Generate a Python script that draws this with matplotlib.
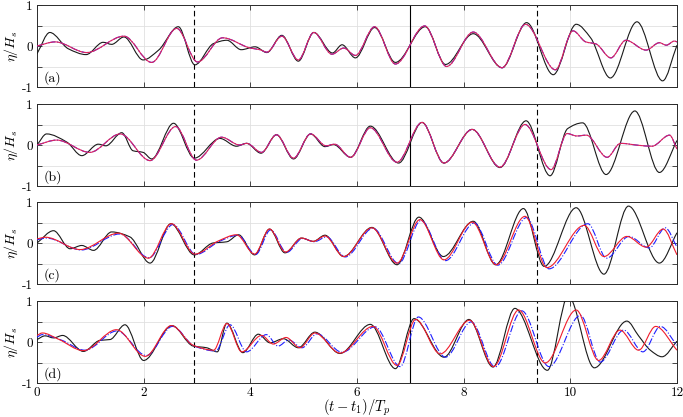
import numpy as np
import matplotlib
matplotlib.use('Agg')
import matplotlib.pyplot as plt
from matplotlib.path import Path
from matplotlib.patches import PathPatch

plt.rcParams['mathtext.fontset'] = 'cm'
plt.rcParams['font.family'] = ['cmr10', 'DejaVu Serif']
plt.rcParams['axes.unicode_minus'] = False

# ---------------- data ----------------
# panel (a)
a_black_t = [0, 0.24, 0.59, 0.92, 1.24, 1.40, 1.63, 1.99, 2.28, 2.65, 2.96, 3.31, 3.56, 3.83, 4.09, 4.31,
             4.59, 4.90, 5.19, 5.54, 5.72, 5.97, 6.33, 6.72, 7.28, 7.66, 8.18, 8.72, 9.18, 9.68, 10.11,
             10.38, 10.75, 11.25, 11.73, 12.0]
a_black_y = [-0.19, 0.33, -0.07, -0.21, 0.09, 0.04, 0.22, -0.34, -0.10, 0.47, -0.46, 0.06, 0.14, -0.09,
             -0.02, -0.16, 0.26, -0.37, 0.33, -0.17, 0.03, -0.29, 0.45, -0.40, 0.47, -0.45, 0.30, -0.53,
             0.57, -0.70, 0.53, 0.20, -0.78, 0.59, -0.85, 0.02]
a_red_t = [0, 0.34, 0.93, 1.63, 2.15, 2.62, 3.01, 3.48, 4.0, 4.18, 4.31, 4.59, 4.90, 5.19, 5.53, 5.75,
           5.97, 6.33, 6.72, 7.27, 7.68, 8.18, 8.72, 9.16, 9.72, 10.05, 10.29, 10.48, 10.76, 11.04, 11.42,
           11.67, 11.8, 11.95, 12.0]
a_red_y = [0.0, 0.10, -0.16, 0.24, -0.40, 0.43, -0.39, 0.20, -0.05, -0.09, -0.15, 0.24, -0.34, 0.33,
           -0.20, -0.05, -0.23, 0.47, -0.44, 0.49, -0.50, 0.34, -0.53, 0.53, -0.58, 0.37, 0.10, 0.05,
           -0.29, 0.14, -0.10, 0.08, 0.02, 0.12, 0.10]
a_blue_t = a_red_t
a_blue_y = a_red_y

# panel (b)
b_black_t = [0, 0.18, 0.56, 0.84, 1.15, 1.29, 1.59, 1.80, 1.99, 2.15, 2.56, 2.95, 3.43, 3.74, 3.93, 4.20,
             4.49, 4.81, 5.13, 5.40, 5.56, 5.88, 6.25, 6.78, 7.22, 7.63, 8.16, 8.68, 9.17, 9.62, 9.95,
             10.23, 10.67, 11.21, 11.67, 12.0]
b_black_y = [0.0, 0.27, 0.07, -0.26, 0.02, -0.02, 0.30, -0.14, -0.18, -0.34, 0.53, -0.32, 0.16, -0.03,
             0.04, -0.20, 0.25, -0.34, 0.27, -0.04, 0.01, -0.30, 0.46, -0.44, 0.55, -0.44, 0.38, -0.55,
             0.59, -0.75, 0.40, 0.54, -0.72, 0.83, -0.67, 0.11]
b_red_t = [0, 0.37, 0.99, 1.56, 2.12, 2.60, 2.99, 3.46, 3.80, 3.93, 4.21, 4.49, 4.81, 5.13, 5.42, 5.58,
           5.88, 6.25, 6.75, 7.22, 7.63, 8.16, 8.68, 9.15, 9.64, 9.94, 10.12, 10.30, 10.69, 10.94, 11.3,
           11.53, 11.86, 12.0]
b_red_y = [0.0, 0.12, -0.18, 0.27, -0.38, 0.45, -0.37, 0.19, 0.0, 0.04, -0.18, 0.25, -0.32, 0.27, -0.02,
           0.02, -0.30, 0.42, -0.42, 0.55, -0.44, 0.38, -0.54, 0.50, -0.60, 0.28, 0.22, 0.24, -0.30, 0.04,
           -0.01, -0.03, 0.24, -0.10]
b_blue_t = b_red_t
b_blue_y = b_red_y

# panel (c)
c_black_t = [0, 0.31, 0.62, 0.84, 1.06, 1.40, 1.74, 2.12, 2.51, 2.95, 3.30, 3.56, 3.78, 4.08, 4.36, 4.65,
             4.96, 5.18, 5.40, 5.75, 6.28, 6.75, 7.16, 7.62, 8.18, 8.60, 9.12, 9.51, 10.11, 10.63, 11.09,
             11.67, 12.0]
c_black_y = [0.0, 0.30, -0.14, -0.06, -0.18, 0.27, 0.15, -0.49, 0.47, -0.29, 0.0, 0.03, 0.20, -0.29, 0.34,
             -0.24, 0.12, 0.04, 0.19, -0.33, 0.38, -0.53, 0.63, -0.33, 0.53, -0.53, 0.84, -0.57, 0.86,
             -0.76, 0.90, -0.49, 0.25]
c_red_t = [0, 0.16, 0.81, 1.53, 2.09, 2.52, 2.96, 3.40, 3.74, 4.08, 4.36, 4.66, 4.96, 5.18, 5.40, 5.75,
           6.28, 6.75, 7.18, 7.63, 8.16, 8.61, 9.15, 9.56, 10.26, 10.63, 11.06, 11.42, 11.74, 12.0]
c_red_y = [0.10, 0.14, -0.16, 0.24, -0.37, 0.47, -0.27, 0.05, 0.20, -0.27, 0.34, -0.22, 0.12, 0.04, 0.17,
           -0.33, 0.37, -0.49, 0.57, -0.41, 0.51, -0.53, 0.65, -0.60, 0.43, -0.33, 0.16, -0.10, 0.34, -0.29]
c_blue_t = [0, 0.18, 0.83, 1.55, 2.10, 2.55, 2.98, 3.42, 3.77, 4.10, 4.38, 4.68, 4.98, 5.20, 5.43, 5.78,
            6.30, 6.78, 7.20, 7.66, 8.20, 8.64, 9.18, 9.60, 10.33, 10.68, 11.10, 11.48, 11.78, 12.0]
c_blue_y = [0.08, 0.12, -0.17, 0.22, -0.36, 0.45, -0.28, 0.04, 0.19, -0.28, 0.32, -0.23, 0.11, 0.03, 0.15,
            -0.34, 0.36, -0.50, 0.55, -0.43, 0.49, -0.54, 0.62, -0.63, 0.47, -0.37, 0.16, -0.12, 0.37, -0.10]

# panel (d)
d_black_t = [0, 0.15, 0.31, 0.48, 0.87, 1.18, 1.37, 1.65, 2.0, 2.53, 2.93, 3.18, 3.38, 3.56, 3.86, 4.15,
             4.37, 4.62, 4.90, 5.21, 5.68, 6.25, 6.72, 7.07, 7.63, 8.10, 8.55, 8.96, 9.57, 9.96, 10.45,
             11.06, 11.28, 11.50, 11.72, 12.0]
d_black_y = [0.06, 0.15, 0.10, 0.16, -0.23, 0.04, 0.06, 0.42, -0.45, 0.40, -0.10, -0.14, -0.24, 0.46,
             -0.26, 0.19, -0.02, 0.08, -0.14, 0.24, -0.28, 0.43, -0.65, 0.57, -0.37, 0.55, -0.61, 0.82,
             -0.69, 1.12, -0.63, 0.51, 0.15, -0.20, -0.36, 0.02]
d_red_t = [0, 0.10, 0.40, 0.87, 1.49, 2.03, 2.52, 2.93, 3.31, 3.56, 3.84, 4.21, 4.43, 4.67, 4.93, 5.21,
           5.68, 6.30, 6.75, 7.10, 7.56, 8.11, 8.56, 9.03, 9.53, 10.11, 10.53, 10.93, 11.28, 11.60, 12.0]
d_red_y = [0.16, 0.22, 0.07, -0.21, 0.30, -0.35, 0.40, -0.08, -0.20, 0.45, -0.24, 0.16, -0.05, 0.11,
           -0.14, 0.22, -0.27, 0.38, -0.57, 0.55, -0.29, 0.53, -0.60, 0.78, -0.51, 0.78, -0.45, 0.29,
           -0.20, 0.38, -0.20]
d_blue_t = [0, 0.10, 0.45, 0.90, 1.50, 2.05, 2.54, 2.95, 3.35, 3.62, 3.93, 4.30, 4.52, 4.72, 4.97, 5.25,
            5.72, 6.34, 6.81, 7.15, 7.66, 8.14, 8.59, 9.09, 9.60, 10.19, 10.56, 11.00, 11.36, 11.69, 12.0]
d_blue_y = [0.12, 0.18, 0.05, -0.20, 0.27, -0.33, 0.38, -0.10, -0.22, 0.42, -0.24, 0.18, -0.10, 0.05,
            -0.14, 0.20, -0.25, 0.37, -0.60, 0.61, -0.37, 0.49, -0.61, 0.76, -0.60, 0.65, -0.49, 0.29,
            -0.24, 0.38, -0.08]

panel_labels = ['(a)', '(b)', '(c)', '(d)']
vlines_dashed = [2.95, 9.38]
vline_solid = [7.0]
x_ticks = [0, 2, 4, 6, 8, 10, 12]
y_ticks = [-1, -0.5, 0, 0.5, 1]
y_ticklabels = ['-1', '', '0', '', '1']

series = [
    (a_black_t, a_black_y, a_red_t, a_red_y, a_blue_t, a_blue_y),
    (b_black_t, b_black_y, b_red_t, b_red_y, b_blue_t, b_blue_y),
    (c_black_t, c_black_y, c_red_t, c_red_y, c_blue_t, c_blue_y),
    (d_black_t, d_black_y, d_red_t, d_red_y, d_blue_t, d_blue_y),
]


def smooth_curve(ax, t, y, **kw):
    """Draw a smooth (monotone cubic) Bezier path through the read points."""
    t = np.asarray(t, float)
    y = np.asarray(y, float)
    h = np.diff(t)
    d = np.diff(y) / h
    m = np.zeros_like(y)
    for i in range(1, len(y) - 1):
        if d[i - 1] * d[i] > 0:
            w1 = 2 * h[i] + h[i - 1]
            w2 = h[i] + 2 * h[i - 1]
            m[i] = (w1 + w2) / (w1 / d[i - 1] + w2 / d[i])
    m[0] = d[0]
    m[-1] = d[-1]
    verts = [(t[0], y[0])]
    codes = [Path.MOVETO]
    for i in range(len(t) - 1):
        hh = h[i]
        verts += [(t[i] + hh / 3, y[i] + m[i] * hh / 3),
                  (t[i + 1] - hh / 3, y[i + 1] - m[i + 1] * hh / 3),
                  (t[i + 1], y[i + 1])]
        codes += [Path.CURVE4] * 3
    p = PathPatch(Path(verts, codes), fill=False, **kw)
    ax.add_patch(p)
    return p


fig = plt.figure(figsize=(6.83, 4.17), dpi=100)
W, H = 683.0, 417.0
left_px, width_px = 37, 640
tops = [5, 104, 202, 301]
height_px = 82

spine_col = '#2b2b2b'
for k, (bt, by, rt, ry, ut, uy) in enumerate(series):
    ax = fig.add_axes([left_px / W, 1 - (tops[k] + height_px) / H, width_px / W, height_px / H])
    ax.set_xlim(0, 12)
    ax.set_ylim(-1, 1)
    ax.set_xticks(x_ticks)
    ax.set_yticks(y_ticks)
    ax.set_yticklabels(y_ticklabels)
    if k < 3:
        ax.set_xticklabels([])
    else:
        ax.set_xticklabels([str(v) for v in x_ticks])
    ax.grid(True, color='#e0e0e0', lw=0.6, zorder=0)
    ax.set_axisbelow(True)
    ax.tick_params(direction='in', top=True, right=True, length=3.5, width=0.6,
                   color=spine_col, labelsize=9.5, pad=3)
    for s in ax.spines.values():
        s.set_color(spine_col)
        s.set_linewidth(0.7)
    for xv in vlines_dashed:
        ax.axvline(xv, color='k', lw=0.8, ls=(0, (5, 3)), zorder=2)
    for xv in vline_solid:
        ax.axvline(xv, color='k', lw=0.8, zorder=2)

    smooth_curve(ax, bt, by, edgecolor='#1a1a1a', lw=0.8, zorder=3)
    smooth_curve(ax, ut, uy, edgecolor='#1f1fff', lw=0.8, ls='-.', zorder=4)
    smooth_curve(ax, rt, ry, edgecolor='#f01c2c' if k >= 2 else '#e0245c', lw=0.8, zorder=5)

    ax.text(0.12, -0.78, panel_labels[k], fontsize=10, ha='left', va='center', zorder=6,
            bbox=dict(facecolor='white', edgecolor='none', pad=0.8))
    ax.set_ylabel(r'$\eta/H_s$', fontsize=10)
    ax.yaxis.set_label_coords(-0.027, 0.5)

fig.text((left_px + width_px / 2) / W, 1 - 408 / H, r'$(t-t_1)/T_p$', fontsize=10.5,
         ha='center', va='center')

fig.savefig('out.png', dpi=100)
